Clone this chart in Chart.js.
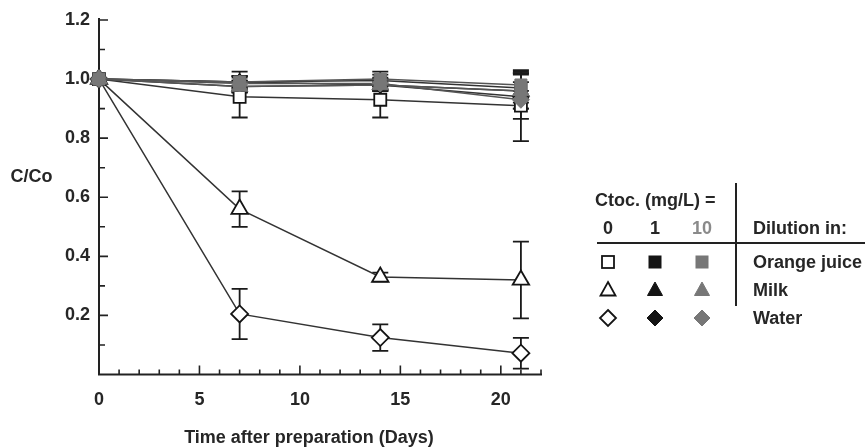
<!DOCTYPE html>
<html>
<head>
<meta charset="utf-8">
<title>C/Co over time</title>
<script src="https://cdn.jsdelivr.net/npm/chart.js@4.4.0/dist/chart.umd.min.js"></script>
<style>
  html, body { margin: 0; padding: 0; background: #fff; }
  #wrap { position: relative; width: 865px; height: 447px; overflow: hidden; }
  #chart { position: absolute; left: 0; top: 0; }
  #overlay { position: absolute; left: 0; top: 0; pointer-events: none; }
  #overlay text { font-family: "Liberation Sans", Arial, sans-serif; font-weight: bold; font-size: 18px; fill: #262626; }
</style>
</head>
<body>
<div id="wrap">
  <canvas id="chart" width="865" height="447"></canvas>
  <svg id="overlay" width="865" height="447" xmlns="http://www.w3.org/2000/svg"></svg>
</div>
<script>
// Sampling days
const days = [0, 7, 14, 21];

// Ctoc = 0 mg/L
const orangeJuice0 = [1.00, 0.94, 0.93, 0.91];
const orangeJuice0Err = [0, 0.07, 0.06, 0.12];
const milk0 = [1.00, 0.56, 0.33, 0.32];
const milk0Err = [0, 0.06, 0.015, 0.13];
const water0 = [1.00, 0.205, 0.125, 0.072];
const water0Err = [0, 0.085, 0.045, 0.052];

// Ctoc = 1 mg/L
const orangeJuice1 = [1.00, 0.99, 0.995, 0.97];
const orangeJuice1Err = [0, 0.02, 0.02, 0.05];
const milk1 = [1.00, 0.975, 0.98, 0.96];
const milk1Err = [0, 0.02, 0.02, 0.06];
const water1 = [1.00, 0.99, 0.98, 0.94];
const water1Err = [0, 0.02, 0.02, 0.075];

// Ctoc = 10 mg/L
const orangeJuice10 = [1.00, 0.99, 1.00, 0.98];
const orangeJuice10Err = [0, 0.035, 0.025, 0.045];
const milk10 = [1.00, 0.975, 0.98, 0.96];
const milk10Err = [0, 0.02, 0.02, 0.03];
const water10 = [1.00, 0.985, 0.985, 0.93];
const water10Err = [0, 0.02, 0.02, 0.03];

// Axis tick labels
const xTickLabels = [0, 5, 10, 15, 20];
const yTickLabels = ['0.2', '0.4', '0.6', '0.8', '1.0', '1.2'];

// Legend table contents
const concentrationHeader = 'Ctoc. (mg/L) =';
const concentrations = ['0', '1', '10'];
const dilutionHeader = 'Dilution in:';
const dilutions = ['Orange juice', 'Milk', 'Water'];
const xTitle = 'Time after preparation (Days)';
const yTitle = 'C/Co';

// Marker looks per concentration and per dilution medium
const markerFill = { '0': '#ffffff', '1': '#141414', '10': '#777777' };
const markerEdge = { '0': '#141414', '1': '#141414', '10': '#777777' };
const mediumShape = { 'Orange juice': 'rect', 'Milk': 'triangle', 'Water': 'rectRot' };
const shapeRadius = { rect: 8.5, triangle: 9.5, rectRot: 8.5 };

const seriesTable = [
  { medium: 'Orange juice', conc: '0', values: orangeJuice0, errors: orangeJuice0Err },
  { medium: 'Milk', conc: '0', values: milk0, errors: milk0Err },
  { medium: 'Water', conc: '0', values: water0, errors: water0Err },
  { medium: 'Orange juice', conc: '1', values: orangeJuice1, errors: orangeJuice1Err },
  { medium: 'Milk', conc: '1', values: milk1, errors: milk1Err },
  { medium: 'Water', conc: '1', values: water1, errors: water1Err },
  { medium: 'Orange juice', conc: '10', values: orangeJuice10, errors: orangeJuice10Err },
  { medium: 'Milk', conc: '10', values: milk10, errors: milk10Err },
  { medium: 'Water', conc: '10', values: water10, errors: water10Err }
];

const drawOrder = { '0': 2, '1': 1, '10': 0 };

const datasets = seriesTable.map(s => {
  const shape = mediumShape[s.medium];
  return {
    label: s.medium + ' (' + s.conc + ' mg/L)',
    data: days.map((d, i) => ({ x: d, y: s.values[i] })),
    errors: s.errors,
    showLine: true,
    borderColor: s.conc === '10' ? '#555' : '#333',
    borderWidth: 1.5,
    pointStyle: shape,
    pointRadius: shapeRadius[shape],
    pointBackgroundColor: markerFill[s.conc],
    pointBorderColor: markerEdge[s.conc],
    pointBorderWidth: s.conc === '0' ? 1.8 : 1,
    order: drawOrder[s.conc],
    clip: false
  };
});

const tickFont = { family: '"Liberation Sans", Arial, sans-serif', size: 18, weight: 'bold' };

// Axis lines with inward tick marks (long at labelled values)
const axisFrame = {
  id: 'axisFrame',
  beforeDatasetsDraw(chart) {
    const { ctx, scales: { x, y } } = chart;
    const left = x.getPixelForValue(x.min);
    const right = x.getPixelForValue(x.max);
    const bottom = y.getPixelForValue(y.min);
    const top = y.getPixelForValue(y.max);
    ctx.save();
    ctx.strokeStyle = '#222';
    ctx.lineWidth = 2;
    ctx.beginPath();
    ctx.moveTo(left, top - 2);
    ctx.lineTo(left, bottom);
    ctx.lineTo(right + 1, bottom);
    ctx.stroke();
    ctx.lineWidth = 1.6;
    ctx.beginPath();
    y.ticks.forEach(t => {
      const k = Math.round(t.value * 10);
      if (k === 0) return;
      const py = y.getPixelForValue(t.value);
      const len = k % 2 === 0 ? 9 : 6;
      ctx.moveTo(left, py);
      ctx.lineTo(left + len, py);
    });
    x.ticks.forEach(t => {
      if (t.value === 0) return;
      const px = x.getPixelForValue(t.value);
      const len = xTickLabels.includes(t.value) ? 9 : 5;
      ctx.moveTo(px, bottom);
      ctx.lineTo(px, bottom - len);
    });
    ctx.stroke();
    ctx.restore();
  }
};

// Vertical error bars with caps, drawn beneath lines and markers
const errorBars = {
  id: 'errorBars',
  beforeDatasetsDraw(chart) {
    const { ctx, scales: { x, y } } = chart;
    ctx.save();
    ctx.strokeStyle = '#1a1a1a';
    ctx.lineWidth = 1.8;
    chart.data.datasets.forEach(ds => {
      if (!ds.errors) return;
      ds.data.forEach((p, j) => {
        const e = ds.errors[j];
        if (!e) return;
        const px = x.getPixelForValue(p.x);
        const yHi = y.getPixelForValue(p.y + e);
        const yLo = y.getPixelForValue(p.y - e);
        ctx.beginPath();
        ctx.moveTo(px, yHi); ctx.lineTo(px, yLo);
        ctx.moveTo(px - 8, yHi); ctx.lineTo(px + 8, yHi);
        ctx.moveTo(px - 8, yLo); ctx.lineTo(px + 8, yLo);
        ctx.stroke();
      });
    });
    ctx.restore();
  }
};

new Chart(document.getElementById('chart'), {
  type: 'scatter',
  data: { datasets },
  options: {
    responsive: false,
    animation: false,
    devicePixelRatio: 1,
    layout: { padding: { top: 20, right: 324, left: 0, bottom: 0 } },
    plugins: { legend: { display: false }, tooltip: { enabled: false } },
    scales: {
      x: {
        type: 'linear', min: 0, max: 22,
        grid: { display: false, drawTicks: false },
        border: { display: false },
        ticks: {
          stepSize: 1, autoSkip: false, maxRotation: 0, padding: 15,
          color: '#262626', font: tickFont,
          callback: v => xTickLabels.includes(v) ? String(v) : ''
        },
        afterFit: s => { s.height = 72.5; }
      },
      y: {
        type: 'linear', min: 0, max: 1.2,
        grid: { display: false, drawTicks: false },
        border: { display: false },
        ticks: {
          stepSize: 0.1, autoSkip: false, padding: 9,
          color: '#262626', font: tickFont,
          callback: v => {
            const label = (Math.round(v * 10) / 10).toFixed(1);
            return yTickLabels.includes(label) ? label : '';
          }
        },
        afterFit: s => { s.width = 99; }
      }
    }
  },
  plugins: [axisFrame, errorBars]
});

// Axis titles and legend table as SVG text
const svgNS = 'http://www.w3.org/2000/svg';
const svg = document.getElementById('overlay');
function add(tag, attrs, text) {
  const el = document.createElementNS(svgNS, tag);
  for (const k in attrs) el.setAttribute(k, attrs[k]);
  if (text !== undefined) el.textContent = text;
  svg.appendChild(el);
  return el;
}
function label(x, y, text, anchor, fill) {
  const a = { x, y, 'text-anchor': anchor || 'start', 'dominant-baseline': 'central' };
  if (fill) a.style = 'fill:' + fill;
  return add('text', a, text);
}
function marker(shape, cx, cy, conc) {
  const fill = markerFill[conc], edge = markerEdge[conc];
  const sw = conc === '0' ? 1.8 : 1;
  if (shape === 'rect') {
    add('rect', { x: cx - 6, y: cy - 6, width: 12, height: 12, fill, stroke: edge, 'stroke-width': sw });
  } else if (shape === 'triangle') {
    add('polygon', { points: `${cx},${cy - 8} ${cx + 7.5},${cy + 5.5} ${cx - 7.5},${cy + 5.5}`, fill, stroke: edge, 'stroke-width': sw });
  } else {
    add('polygon', { points: `${cx},${cy - 8} ${cx + 8},${cy} ${cx},${cy + 8} ${cx - 8},${cy}`, fill, stroke: edge, 'stroke-width': sw });
  }
}

label(31.5, 176, yTitle, 'middle');
label(309, 437, xTitle, 'middle');

const colX = [608, 655, 702];
label(595, 200, concentrationHeader);
concentrations.forEach((c, i) => label(colX[i], 228, c, 'middle', c === '10' ? '#8a8a8a' : null));
label(753, 228, dilutionHeader);
add('line', { x1: 597, y1: 243, x2: 865, y2: 243, stroke: '#222', 'stroke-width': 2 });
add('line', { x1: 736, y1: 183, x2: 736, y2: 306, stroke: '#222', 'stroke-width': 2 });
dilutions.forEach((m, r) => {
  const cy = 262 + r * 28;
  concentrations.forEach((c, i) => marker(mediumShape[m], colX[i], cy, c));
  label(753, cy, m);
});
</script>
</body>
</html>
